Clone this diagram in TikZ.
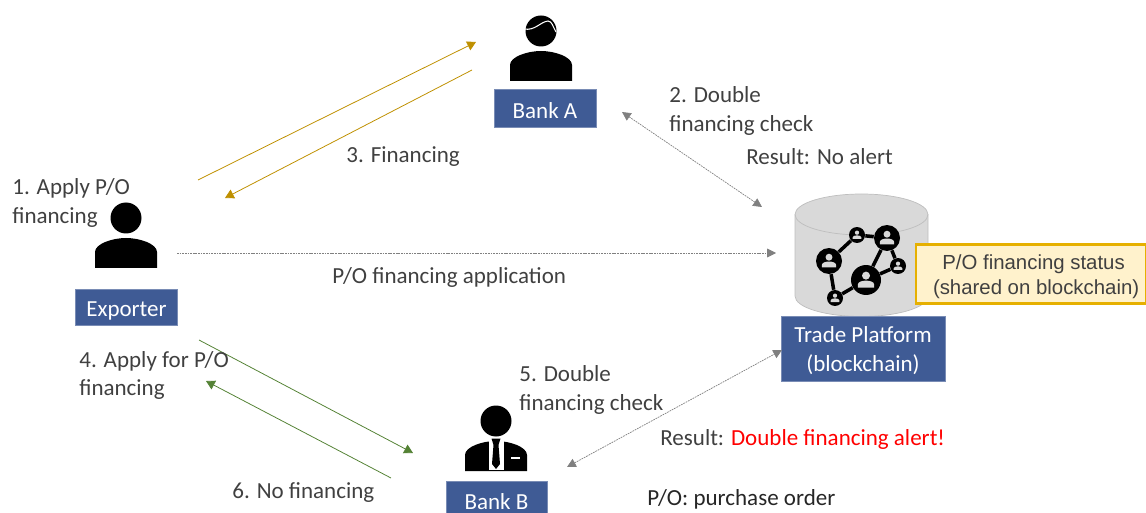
\documentclass[tikz,border=0pt]{standalone}
\usepackage{fontspec}
\setmainfont{Carlito}
\newfontfamily\arialfont{Liberation Sans}
\usetikzlibrary{arrows.meta}
\definecolor{boxblue}{HTML}{3F5B95}
\definecolor{txtgray}{HTML}{404040}
\definecolor{dbgray}{HTML}{D9D9D9}
\definecolor{goldline}{HTML}{BF9000}
\definecolor{greenline}{HTML}{548235}
\definecolor{notefill}{HTML}{FFF2CC}
\definecolor{noteline}{HTML}{E6B000}
\newcommand{\pad}[1]{\rule{0pt}{#1}}
\begin{document}
\begin{tikzpicture}[
        x=0.02cm, y=-0.02cm,
        actor/.style={fill=boxblue, draw=boxblue!70!white, line width=0.3pt, text=white, align=center, inner sep=0pt, font=\fontsize{13.1}{16}\selectfont},
        lbl/.style={anchor=west, align=left, inner sep=0pt, text=txtgray, font=\fontsize{13.1}{16}\selectfont},
        hub/.style={circle, fill=black, inner sep=0pt},
        link/.style={line width=2pt},
        gold/.style={-{Triangle[length=5pt,width=5.5pt]}, goldline, line width=0.45pt},
        leaf/.style={-{Triangle[length=5pt,width=5.5pt]}, greenline, line width=0.45pt},
        query/.style={{Triangle[length=5pt,width=5pt]}-{Triangle[length=5pt,width=5pt]}, gray, line width=0.4pt, dash pattern=on 1pt off 0.5pt},
        share/.style={-{Triangle[length=5pt,width=5pt]}, gray, line width=0.4pt, dash pattern=on 1pt off 0.5pt},
        body/.pic={\fill (-31,50) -- (-31,34) .. controls (-31,26) and (-14,20) .. (0,20) .. controls (14,20) and (31,26) .. (31,34) -- (31,50) -- cycle;
            \fill (0,0) circle[radius=15.5];},
        mini/.pic={\fill[dbgray] (0,-3.5) circle[radius=3.2];
            \fill[dbgray] (-6.5,6) -- (-6.5,3.5) .. controls (-6.5,1.5) and (-3,0.5) .. (0,0.5) .. controls (3,0.5) and (6.5,1.5) .. (6.5,3.5) -- (6.5,6) -- cycle;}
    ]
        \useasboundingbox (0,0) rectangle (1146,513);

        % Persons
        \pic at (541,31) {body};
        \draw[white, line width=0.6pt] (524,29) .. controls (535,31) and (540,22) .. (548,21) .. controls (552,21) and (553,27) .. (556,32);
        \pic at (126,218) {body};
        \pic at (496,421) {body};
        \fill[white] (488.5,438) -- (488.5,470) -- (503.5,470) -- (503.5,438) -- cycle;
        \fill (491.5,438.5) -- (500.5,438.5) -- (498.5,445) -- (500,464) -- (496,469) -- (492,464) -- (493.5,445) -- cycle;
        \fill[white] (511,457) rectangle (520,459);

        % Labels of the parties
        \node[actor, minimum width=2.04cm, minimum height=0.76cm] (bankA) at (545,108) {\pad{12.3pt}Bank A};
        \node[actor, minimum width=2.04cm, minimum height=0.72cm] (exporter) at (126.5,307) {\pad{13pt}Exporter};
        \node[actor, minimum width=2.02cm, minimum height=0.64cm] (bankB) at (496.5,497.5) {\pad{13.5pt}Bank B};

        % Platform
        \fill[dbgray] (795,214.5) -- (795,296) arc[start angle=180, end angle=0, x radius=66.5, y radius=20.5] -- (928,214.5) arc[start angle=0, end angle=-180, x radius=66.5, y radius=20.5] -- cycle;
        \draw[dbgray!70!gray] (795,214.5) -- (795,296) arc[start angle=180, end angle=0, x radius=66.5, y radius=20.5] -- (928,214.5) arc[start angle=0, end angle=-180, x radius=66.5, y radius=20.5];
        \draw[dbgray!70!gray] (795,214.5) arc[start angle=180, end angle=0, x radius=66.5, y radius=20.5];
        \foreach \name/\px/\py/\r in {n1/829/261/13, n2/857/235/8, n3/887/238/13, n4/898/266/8, n5/866/280/15, n6/835/298/8} {
            \node[hub, minimum size=\r*0.04cm] (\name) at (\px,\py) {};
            \pic[scale=\r/12] at (\px,\py) {mini};
        }
        \draw[link] (n1) -- (n2); \draw[link] (n2) -- (n3); \draw[link] (n3) -- (n5);
        \draw[link] (n3) -- (n4); \draw[link] (n4) -- (n5);
        \draw[link] (n1) -- (n6); \draw[link] (n6) -- (n5);
        \node[actor, minimum width=3.28cm, minimum height=1.3cm] (platform) at (863,348.5) {\pad{11.5pt}Trade Platform\\(blockchain)};
        \node[draw=noteline, fill=notefill, line width=1.6pt, minimum width=4.6cm, minimum height=1.18cm, inner sep=0pt, align=center, text=txtgray, font=\arialfont\fontsize{11.6}{14.3}\selectfont] (status) at (1031,274) {\pad{11.3pt}\hspace*{0.25em}P/O financing status\\ \hspace*{0.5em}(shared on blockchain)};

        % Free ends
        \coordinate (a1) at (198,180); \coordinate (a2) at (476,42);
        \coordinate (b1) at (472,70); \coordinate (b2) at (225,198);
        \coordinate (c1) at (622,112); \coordinate (c2) at (762,207);
        \coordinate (d1) at (177,253); \coordinate (d2) at (776,253);
        \coordinate (e1) at (199,340); \coordinate (e2) at (413,453);
        \coordinate (f1) at (391,478); \coordinate (f2) at (206,381);
        \coordinate (g1) at (567,467); \coordinate (g2) at (782,350);

        % Arrows
        \draw[gold] (a1) -- (a2); \draw[gold] (b1) -- (b2);
        \draw[query] (c1) -- (c2);
        \draw[share] (d1) -- (d2);
        \draw[leaf] (e1) -- (e2); \draw[leaf] (f1) -- (f2);
        \draw[query] (g1) -- (g2);

        % Step labels
        \node[lbl] (s1) at (12,203) {1. Apply P/O\\financing};
        \node[lbl] (s2) at (669,111) {2. Double\\financing check};
        \node[lbl] (r2) at (746,157) {Result: No alert};
        \node[lbl] (s3) at (346,157) {3. Financing};
        \node[lbl] (app) at (332,277) {P/O financing application};
        \node[lbl] (s4) at (79,375.5) {4. Apply for P/O\\financing};
        \node[lbl] (s5) at (519,390) {5. Double\\financing check};
        \node[lbl] (r5) at (660,439.5) {Result: \textcolor{red}{Double financing alert!}};
        \node[lbl] (s6) at (232,493) {6. No financing};
        \node[lbl, text=black!85] (note) at (647,499) {P/O: purchase order};

    \end{tikzpicture}
\end{document}
